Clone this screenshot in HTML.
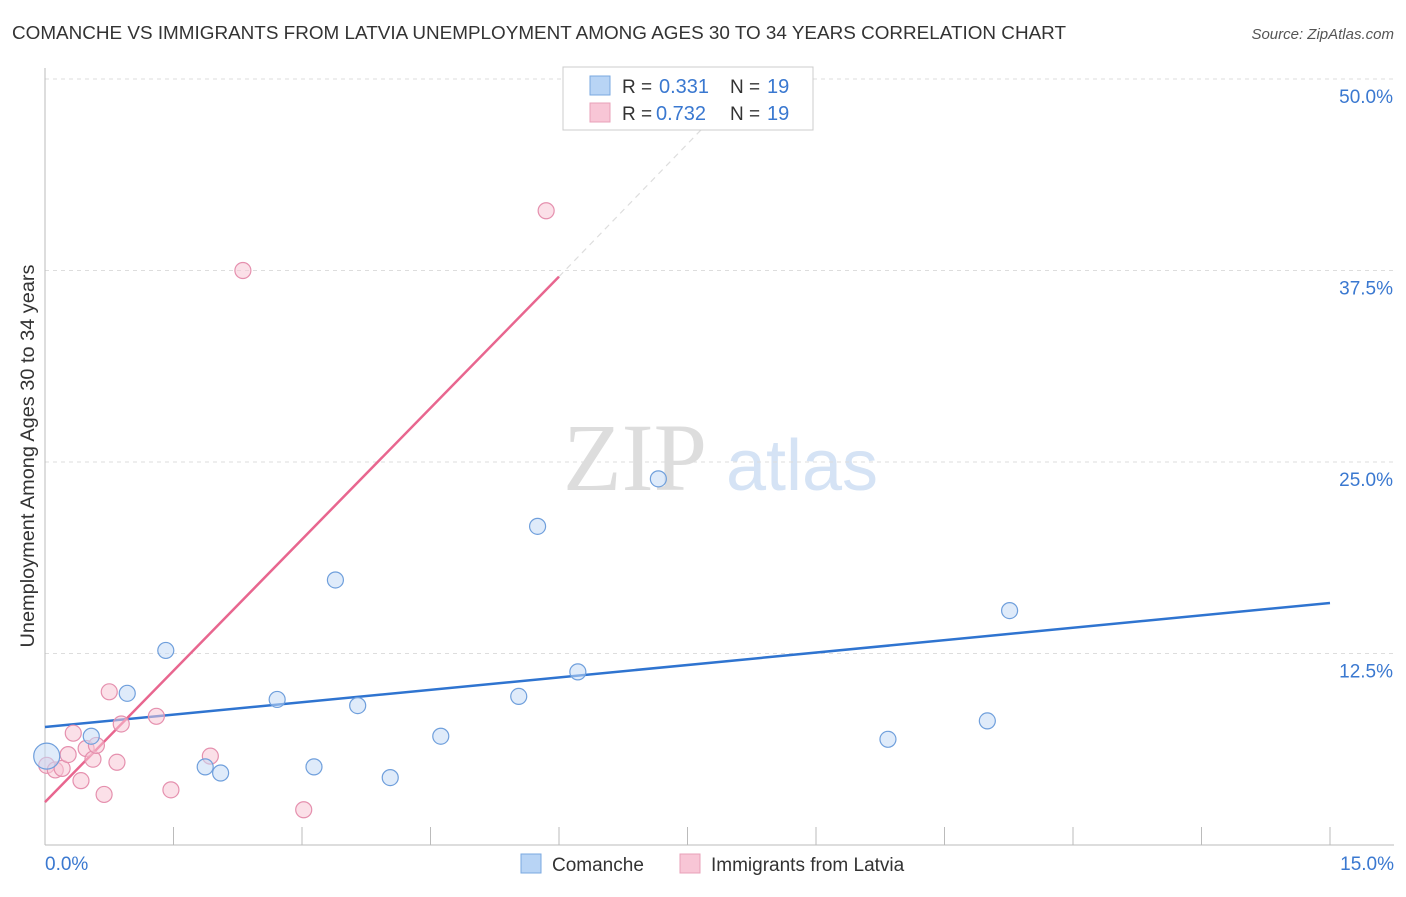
<!DOCTYPE html>
<html><head><meta charset="utf-8"><style>
body{margin:0;background:#fff;font-family:"Liberation Sans",sans-serif;}
</style></head><body>
<svg width="1406" height="892" xmlns="http://www.w3.org/2000/svg" font-family="Liberation Sans, sans-serif">
<text x="12" y="39" font-size="18" fill="#333" textLength="1054" lengthAdjust="spacingAndGlyphs">COMANCHE VS IMMIGRANTS FROM LATVIA UNEMPLOYMENT AMONG AGES 30 TO 34 YEARS CORRELATION CHART</text>
<text x="1394" y="39" font-size="15" fill="#555" text-anchor="end" font-style="italic">Source: ZipAtlas.com</text>
<g>
<text x="635" y="490" font-size="96" fill="#ddd" text-anchor="middle" font-family="Liberation Serif, serif">ZIP</text>
<text x="802" y="490" font-size="72" fill="#d5e3f5" text-anchor="middle">atlas</text>
</g>
<g id="grid"></g><g id="axes"></g><g id="lines"></g><g id="points"></g>
<text transform="translate(34,456) rotate(-90)" font-size="19" fill="#333" text-anchor="middle" textLength="383" lengthAdjust="spacingAndGlyphs">Unemployment Among Ages 30 to 34 years</text>
<g>
<rect x="563" y="67" width="250" height="63" fill="#fff" stroke="#ccc"/>
<rect x="590" y="76" width="20" height="19" fill="#b8d4f5" stroke="#7aa8e0"/>
<rect x="590" y="103" width="20" height="19" fill="#f8c6d6" stroke="#e8a0b8"/>
<text x="622" y="93" font-size="19" fill="#333">R =</text>
<text x="659" y="93" font-size="20" fill="#3a78d0">0.331</text>
<text x="730" y="93" font-size="19" fill="#333">N =</text>
<text x="767" y="93" font-size="20" fill="#3a78d0">19</text>
<text x="622" y="120" font-size="19" fill="#333">R =</text>
<text x="656" y="120" font-size="20" fill="#3a78d0">0.732</text>
<text x="730" y="120" font-size="19" fill="#333">N =</text>
<text x="767" y="120" font-size="20" fill="#3a78d0">19</text>
</g>
<g>
<rect x="521" y="854" width="20" height="19" fill="#b8d4f5" stroke="#7aa8e0"/>
<text x="552" y="871" font-size="19" fill="#333">Comanche</text>
<rect x="680" y="854" width="20" height="19" fill="#f8c6d6" stroke="#e8a0b8"/>
<text x="711" y="871" font-size="19" fill="#333">Immigrants from Latvia</text>
</g>
</svg>
<script>
const xTicks=[0,1.5,3,4.5,6,7.5,9,10.5,12,13.5,15];
const yTicks=[12.5,25,37.5,50];
const yTickLabels=["12.5%","25.0%","37.5%","50.0%"];
const blueX=[0.02,0.54,0.96,1.41,1.87,2.05,2.71,3.14,3.39,3.65,4.03,4.62,5.53,5.75,6.22,7.16,9.84,11.0,11.26];
const blueY=[5.8,7.1,9.9,12.7,5.1,4.7,9.5,5.1,17.3,9.1,4.4,7.1,9.7,20.8,11.3,23.9,6.9,8.1,15.3];
const pinkX=[0.02,0.12,0.2,0.27,0.33,0.42,0.48,0.56,0.6,0.69,0.75,0.84,0.89,1.3,1.47,1.93,2.31,3.02,5.85];
const pinkY=[5.2,4.9,5.0,5.9,7.3,4.2,6.3,5.6,6.5,3.3,10.0,5.4,7.9,8.4,3.6,5.8,37.5,2.3,41.4];
const blueLine=[0,7.7,15,15.8];
const pinkLine=[0,2.8,6.0,37.1];
const pinkDash=[6.0,37.1,7.8,47.5];
const NS="http://www.w3.org/2000/svg";
const X=v=>45+v*(1330-45)/15;
const Y=v=>845-v*(845-79)/50;
function mk(t,a,p){const e=document.createElementNS(NS,t);for(const k in a)e.setAttribute(k,a[k]);document.getElementById(p).appendChild(e);return e;}
yTicks.forEach((t,i)=>{
 const g=mk('line',{x1:45,x2:1394,y1:Y(t),y2:Y(t),stroke:'#ddd','stroke-dasharray':'4,4'},'grid');
 
 
 const l=mk('text',{x:1393,y:Y(t)+24,'font-size':19,fill:'#3a78d0','text-anchor':'end'},'axes');
 l.textContent=yTickLabels[i];
 
 
});
const ax=mk('line',{x1:45,x2:1394,y1:845,y2:845,stroke:'#bbb'},'axes');


const ay=mk('line',{x1:45,x2:45,y1:68,y2:845,stroke:'#bbb'},'axes');


xTicks.forEach(t=>{
 const k=mk('line',{x1:X(t),x2:X(t),y1:827,y2:845,stroke:'#bbb'},'axes');
 
 
});
const x0=mk('text',{x:45,y:870,'font-size':19,fill:'#3a78d0'},'axes');x0.textContent="0.0%";


const x1=mk('text',{x:1394,y:870,'font-size':19,fill:'#3a78d0','text-anchor':'end'},'axes');x1.textContent="15.0%";


function pts(xs,ys,fill,stroke,name,big){xs.forEach((v,i)=>{
 const c=mk('circle',{cx:X(v),cy:Y(ys[i]),r:(i===0&&big)?13:8,fill:fill,stroke:stroke,'stroke-width':1.2,'fill-opacity':0.55},'points');
 
 
});}
pts(pinkX,pinkY,'#f8c6d6','#e590ae','latvia-point',false);
pts(blueX,blueY,'#c4daf6','#6f9fdc','comanche-point',true);
const bl=mk('line',{x1:X(blueLine[0]),y1:Y(blueLine[1]),x2:X(blueLine[2]),y2:Y(blueLine[3]),stroke:'#2f74d0','stroke-width':2.5},'lines');


const pl=mk('line',{x1:X(pinkLine[0]),y1:Y(pinkLine[1]),x2:X(pinkLine[2]),y2:Y(pinkLine[3]),stroke:'#e8668f','stroke-width':2.5},'lines');


const pd=mk('line',{x1:X(pinkDash[0]),y1:Y(pinkDash[1]),x2:X(pinkDash[2]),y2:Y(pinkDash[3]),stroke:'#ddd','stroke-width':1.2,'stroke-dasharray':'6,5'},'lines');


</script>
</body></html>
